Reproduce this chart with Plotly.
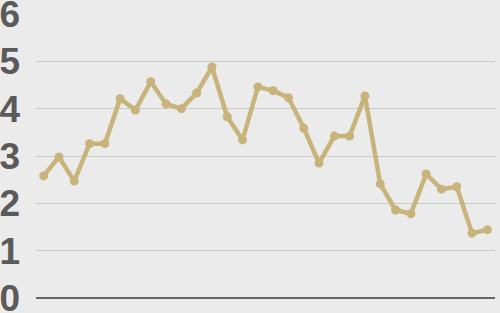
import plotly.graph_objects as go

x_index = list(range(30))
values = [2.58, 2.98, 2.47, 3.26, 3.26, 4.21, 3.97, 4.57, 4.10, 4.00,
          4.33, 4.88, 3.83, 3.34, 4.46, 4.38, 4.23, 3.59, 2.85, 3.42,
          3.42, 4.27, 2.41, 1.86, 1.78, 2.62, 2.30, 2.35, 1.37, 1.44]
y_ticks = [0, 1, 2, 3, 4, 5, 6]

fig = go.Figure()
fig.add_trace(go.Scatter(
    x=x_index, y=values, mode="lines+markers",
    line=dict(color="#c8b47a", width=4.5),
    marker=dict(color="#c8b47a", size=9),
    hoverinfo="skip",
    cliponaxis=False,
))
fig.update_layout(
    width=500, height=313,
    margin=dict(l=36, r=5, t=14, b=15, autoexpand=False),
    paper_bgcolor="#ebebeb", plot_bgcolor="#ebebeb",
    showlegend=False,
    font=dict(family="Liberation Sans, Arial, sans-serif"),
)
fig.update_xaxes(range=[-0.5, 29.5], showticklabels=False, showgrid=False,
                 zeroline=False, showline=False, automargin=False)
fig.update_yaxes(range=[0, 6], tickvals=y_ticks, ticktext=[str(t) for t in y_ticks],
                 showgrid=True, gridcolor="#cacaca", gridwidth=1,
                 zeroline=True, zerolinecolor="#666666", zerolinewidth=1.5,
                 tickfont=dict(size=37, color="#5a5a5a", family="Liberation Sans, Arial, sans-serif", weight="bold"),
                 ticks="", ticklabelstandoff=15, showline=False,
                 automargin=False, ticklabeloverflow="allow")
fig.write_html("out.html")
